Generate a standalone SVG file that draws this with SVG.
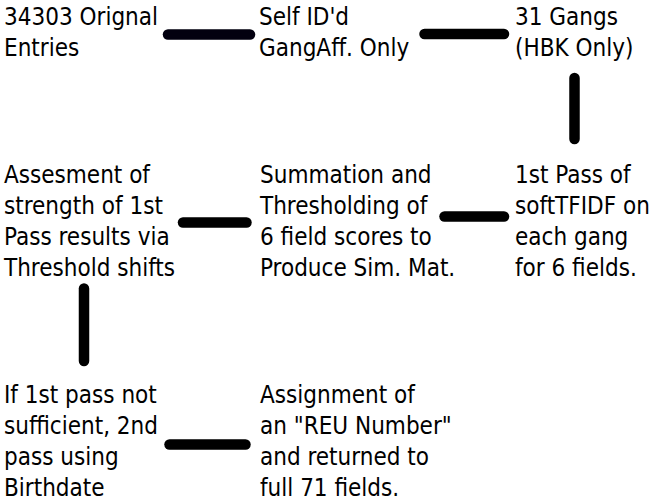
<svg xmlns="http://www.w3.org/2000/svg" width="650" height="502" viewBox="0 0 650 502">
<style>
text{font-family:"DejaVu Sans Condensed","DejaVu Sans",sans-serif;font-size:24px;fill:#000}
.c line{stroke:#000;stroke-width:10.5;stroke-linecap:round}
</style>
<rect width="650" height="502" fill="#fff"/>
<g class="c" id="connectors">
<line x1="168" y1="34.5" x2="250" y2="34.5" style="stroke:#02000f"/>
<line x1="424.5" y1="34" x2="504" y2="34"/>
<line x1="574.5" y1="78" x2="574.5" y2="139"/>
<line x1="183" y1="222.5" x2="246.5" y2="222.5"/>
<line x1="444.5" y1="216.5" x2="504" y2="216.5"/>
<line x1="84" y1="288.5" x2="84" y2="361"/>
<line x1="169.5" y1="444.5" x2="245.5" y2="444.5"/>
</g>
<g id="n1"><text x="4" y="25">34303 Orignal</text><text x="4" y="56">Entries</text></g>
<g id="n2"><text x="259" y="25">Self ID'd</text><text x="259" y="56">GangAff. Only</text></g>
<g id="n3"><text x="515" y="25">31 Gangs</text><text x="515" y="56">(HBK Only)</text></g>
<g id="n4"><text x="4" y="182.5">Assesment of</text><text x="4" y="213.5">strength of 1st</text><text x="4" y="244.5">Pass results via</text><text x="4" y="275.5">Threshold shifts</text></g>
<g id="n5"><text x="260" y="182.5">Summation and</text><text x="260" y="213.5">Thresholding of</text><text x="260" y="244.5">6 field scores to</text><text x="260" y="275.5">Produce Sim. Mat.</text></g>
<g id="n6"><text x="515" y="182.5">1st Pass of</text><text x="515" y="213.5">softTFIDF on</text><text x="515" y="244.5">each gang</text><text x="515" y="275.5">for 6 fields.</text></g>
<g id="n7"><text x="4" y="402.5">If 1st pass not</text><text x="4" y="433.5">sufficient, 2nd</text><text x="4" y="464.5">pass using</text><text x="4" y="495.5">Birthdate</text></g>
<g id="n8"><text x="260" y="402.5">Assignment of</text><text x="260" y="433.5">an "REU Number"</text><text x="260" y="464.5">and returned to</text><text x="260" y="495.5">full 71 fields.</text></g>
</svg>
